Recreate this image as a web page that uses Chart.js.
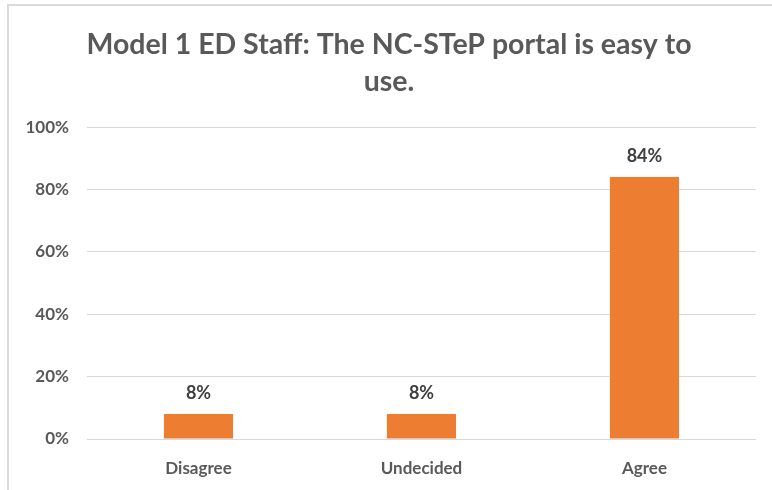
<!DOCTYPE html>
<html>
<head>
<meta charset="utf-8">
<script src="https://cdn.jsdelivr.net/npm/chart.js@4/dist/chart.umd.min.js"></script>
<style>
  html, body { margin: 0; padding: 0; background: #fff; }
  #wrap { position: relative; width: 772px; height: 490px; }
  #frame { position: absolute; left: 7px; top: 4px; width: 800px; height: 520px;
           border-top: 2px solid #dadada; border-left: 2px solid #dadada; pointer-events: none; }
  canvas { position: absolute; left: 0; top: 0; }
</style>
</head>
<body>
<div id="wrap">
  <canvas id="c" width="772" height="490"></canvas>
  <div id="frame"></div>
</div>
<script>
const titleLines = ['Model 1 ED Staff: The NC-STeP portal is easy to', 'use.'];
const categories = ['Disagree', 'Undecided', 'Agree'];
const shares = [8, 8, 84];
const tickValues = [0, 20, 40, 60, 80, 100];

const FONT = "Lato, 'Open Sans', sans-serif";
const TEXT = '#595959';
const PAD_LEFT = 22;

// Writes each bar's percentage just above it
const barLabels = {
  id: 'barLabels',
  afterDatasetsDraw(chart) {
    const ctx = chart.ctx;
    const meta = chart.getDatasetMeta(0);
    ctx.save();
    ctx.font = `bold 18px ${FONT}`;
    ctx.fillStyle = '#404040';
    ctx.textAlign = 'center';
    ctx.textBaseline = 'middle';
    meta.data.forEach((bar, i) => {
      ctx.fillText(shares[i] + '%', bar.x, bar.y - 21);
    });
    ctx.restore();
  }
};

new Chart(document.getElementById('c'), {
  type: 'bar',
  data: {
    labels: categories,
    datasets: [{
      data: shares,
      backgroundColor: '#ED7D31',
      barPercentage: 0.31,
      categoryPercentage: 1
    }]
  },
  options: {
    responsive: false,
    animation: false,
    layout: { padding: { left: PAD_LEFT, right: 16, top: 0, bottom: 0 } },
    plugins: {
      legend: { display: false },
      tooltip: { enabled: false },
      title: {
        display: true,
        text: titleLines,
        color: TEXT,
        font: { family: FONT, size: 28.5, weight: 'bold', lineHeight: 1.3 },
        padding: { top: 26, bottom: 27 }
      }
    },
    scales: {
      x: {
        grid: { display: false },
        border: { display: false },
        ticks: { color: TEXT, font: { family: FONT, size: 17, weight: 'bold' }, padding: 11 },
        afterFit(scale) { scale.height = 51; }
      },
      y: {
        min: 0, max: 100,
        afterBuildTicks(scale) { scale.ticks = tickValues.map(v => ({ value: v })); },
        grid: { color: '#d9d9d9', lineWidth: 1, drawTicks: false },
        border: { display: false },
        ticks: {
          color: TEXT, padding: 18,
          font: { family: FONT, size: 17, weight: 'bold' },
          callback: v => v + '%'
        },
        afterFit(scale) { scale.width = 87 - PAD_LEFT; }
      }
    }
  },
  plugins: [barLabels]
});
</script>
</body>
</html>
